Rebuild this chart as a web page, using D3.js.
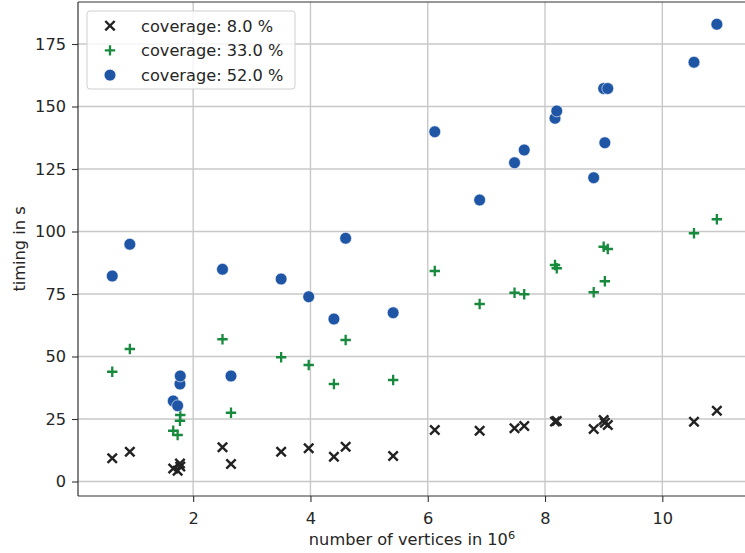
<!DOCTYPE html>
<html>
<head>
<meta charset="utf-8">
<script src="https://cdn.jsdelivr.net/npm/d3@7"></script>
<style>
  body { margin: 0; background: #fff; }
  svg { display: block; }
  text { font-family: "DejaVu Sans", sans-serif; fill: #262626; }
</style>
</head>
<body>
<svg id="chart" width="745" height="553"></svg>
<script>
// graph sizes (millions of vertices), shared by every coverage run
const vertices = [0.62, 0.92, 1.66, 1.735, 1.775, 1.78, 2.50, 2.645, 3.50, 3.97, 4.40, 4.60, 5.41,
                  6.12, 6.885, 7.48, 7.645, 8.17, 8.20, 8.83, 9.00, 9.02, 9.07, 10.54, 10.93];
// timings in seconds
const timing8  = [9.3, 11.9, 5.2, 4.3, 7.2, 6.0, 13.7, 7.0, 11.9, 13.3, 9.9, 13.9, 10.2,
                  20.6, 20.3, 21.3, 22.2, 24.0, 24.2, 21.0, 24.6, 23.5, 22.6, 23.9, 28.3];
const timing33 = [43.9, 53.0, 20.3, 18.6, 24.3, 26.6, 56.9, 27.5, 49.7, 46.6, 39.0, 56.6, 40.6,
                  84.2, 71.0, 75.5, 74.9, 86.6, 85.3, 75.7, 93.9, 80.1, 93.0, 99.3, 104.9];
const timing52 = [82.2, 94.9, 32.2, 30.3, 39.0, 42.2, 84.9, 42.2, 81.0, 73.9, 65.0, 97.3, 67.5,
                  139.9, 112.6, 127.5, 132.6, 145.3, 148.2, 121.5, 157.2, 135.5, 157.2, 167.7, 182.9];
const seriesLabels = ["coverage: 8.0 %", "coverage: 33.0 %", "coverage: 52.0 %"];
const xTicks = [2, 4, 6, 8, 10];
const yTicks = [0, 25, 50, 75, 100, 125, 150, 175];

const colors = ["#222222", "#178a3e", "#1f55a5"];
const shapes = ["x", "plus", "circle"];

const svg = d3.select("#chart");
const box = { left: 78, top: 2, right: 746, bottom: 496 };

const x = d3.scaleLinear().domain([0.036, 11.427]).range([box.left, box.right]);
const y = d3.scaleLinear().domain([-5.8, 191.8]).range([box.bottom, box.top]);

// grid
const grid = svg.append("g");
grid.selectAll("line.gx").data(xTicks).join("line")
  .attr("x1", d => x(d)).attr("x2", d => x(d))
  .attr("y1", box.top).attr("y2", box.bottom)
  .attr("stroke", "#c8c8c8").attr("stroke-width", 1.4);
grid.selectAll("line.gy").data(yTicks).join("line")
  .attr("x1", box.left).attr("x2", box.right)
  .attr("y1", d => y(d)).attr("y2", d => y(d))
  .attr("stroke", "#c8c8c8").attr("stroke-width", 1.4);

// axes
const fs = 16.2;
const xAxis = svg.append("g").attr("transform", `translate(0,${box.bottom})`)
  .call(d3.axisBottom(x).tickValues(xTicks).tickFormat(d3.format("d")).tickSize(6).tickPadding(10).tickSizeOuter(0));
const yAxis = svg.append("g").attr("transform", `translate(${box.left},0)`)
  .call(d3.axisLeft(y).tickValues(yTicks).tickFormat(d3.format("d")).tickSize(6).tickPadding(6).tickSizeOuter(0));
[xAxis, yAxis].forEach(a => {
  a.select(".domain").remove();
  a.selectAll(".tick line").attr("stroke", "#333").attr("stroke-width", 1.1);
  a.selectAll(".tick text").attr("font-size", fs).attr("font-family", "DejaVu Sans").attr("fill", "#262626");
});

// spines
svg.append("line").attr("x1", box.left).attr("x2", box.left).attr("y1", box.top).attr("y2", box.bottom)
  .attr("stroke", "#333").attr("stroke-width", 1.2);
svg.append("line").attr("x1", box.left).attr("x2", box.right).attr("y1", box.bottom).attr("y2", box.bottom)
  .attr("stroke", "#333").attr("stroke-width", 1.2);
svg.append("line").attr("x1", box.left).attr("x2", box.right).attr("y1", box.top).attr("y2", box.top)
  .attr("stroke", "#333").attr("stroke-width", 1.2);

// axis labels
const xl = svg.append("text").attr("x", (box.left + box.right) / 2).attr("y", 545)
  .attr("text-anchor", "middle").attr("font-size", fs);
xl.append("tspan").text("number of vertices in 10");
xl.append("tspan").attr("font-size", fs * 0.7).attr("dy", -6).text("6");

svg.append("text").attr("transform", `translate(25,${(box.top + box.bottom) / 2}) rotate(-90)`)
  .attr("text-anchor", "middle").attr("font-size", fs).text("timing in s");

// marker drawing
function drawMarker(sel, shape, color) {
  if (shape === "circle") {
    sel.append("circle").attr("r", 5.9).attr("fill", color)
      .attr("stroke", "#fff").attr("stroke-width", 0.6);
  } else if (shape === "x") {
    sel.append("path").attr("d", "M-4.7,-4.7L4.7,4.7M-4.7,4.7L4.7,-4.7")
      .attr("stroke", color).attr("stroke-width", 2.4).attr("fill", "none");
  } else {
    sel.append("path").attr("d", "M-5.2,0L5.2,0M0,-5.2L0,5.2")
      .attr("stroke", color).attr("stroke-width", 2.3).attr("fill", "none");
  }
}

const allSeries = [timing8, timing33, timing52];
allSeries.forEach((vals, i) => {
  const pts = vertices.map((v, j) => ({ v, t: vals[j] }));
  const g = svg.append("g");
  g.selectAll("g").data(pts).join("g")
    .attr("transform", d => `translate(${x(d.v)},${y(d.t)})`)
    .each(function () { drawMarker(d3.select(this), shapes[i], colors[i]); });
});

// legend
const lg = svg.append("g");
lg.append("rect").attr("x", 87).attr("y", 11).attr("width", 208).attr("height", 78).attr("rx", 3)
  .attr("fill", "#fff").attr("fill-opacity", 0.8).attr("stroke", "#d0d0d0").attr("stroke-width", 1);
seriesLabels.forEach((lab, i) => {
  const cy = 25.7 + i * 24.7;
  const mk = lg.append("g").attr("transform", `translate(110,${cy})`);
  drawMarker(mk, shapes[i], colors[i]);
  lg.append("text").attr("x", 141).attr("y", cy + 5.8).attr("font-size", fs).text(lab);
});
</script>
</body>
</html>
